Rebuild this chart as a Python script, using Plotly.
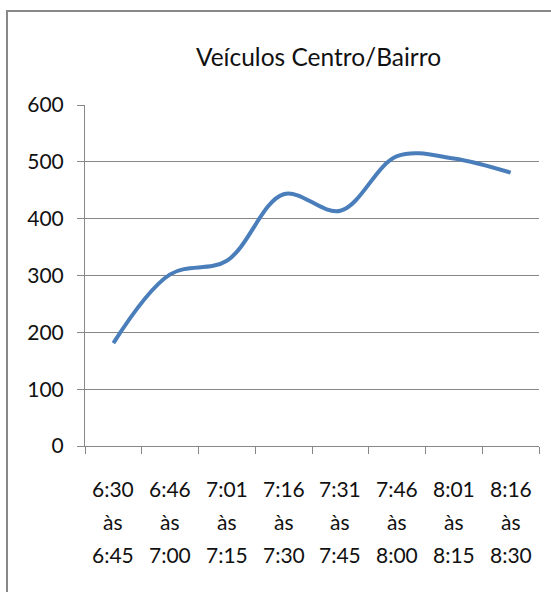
import plotly.graph_objects as go

# Vehicle counts per 15-minute interval, direction Centro -> Bairro
inicio = ["6:30", "6:46", "7:01", "7:16", "7:31", "7:46", "8:01", "8:16"]
fim = ["6:45", "7:00", "7:15", "7:30", "7:45", "8:00", "8:15", "8:30"]
veiculos = [181, 302, 326, 443, 414, 510, 506, 481]
y_ticks = [0, 100, 200, 300, 400, 500, 600]

categorias = [f"{a} às {b}" for a, b in zip(inicio, fim)]

FONT = "Lato, sans-serif"
TXT = "#111111"
GRID = "#878787"

fig = go.Figure(
    go.Scatter(
        x=categorias,
        y=veiculos,
        mode="lines",
        line=dict(color="#4A7EBB", width=4, shape="spline", smoothing=1.0),
        hoverinfo="x+y",
    )
)

W, H = 551, 592
L, R, T, B = 85, 12, 105, 146

fig.update_layout(
    width=W,
    height=H,
    margin=dict(l=L, r=R, t=T, b=B, pad=0, autoexpand=False),
    paper_bgcolor="white",
    plot_bgcolor="white",
    showlegend=False,
    font=dict(family=FONT, size=21, color=TXT),
    title=dict(
        text="Veículos Centro/Bairro",
        font=dict(family=FONT, size=24.5, color=TXT),
        x=318.5 / W,
        xanchor="center",
        xref="container",
        y=1 - 57 / H,
        yanchor="middle",
        yref="container",
    ),
    xaxis=dict(
        type="category",
        range=[-0.5, len(categorias) - 0.5],
        automargin=False,
        showgrid=False,
        showline=True,
        linecolor=GRID,
        linewidth=1,
        ticks="outside",
        tickson="boundaries",
        ticklen=7,
        tickcolor=GRID,
        tickwidth=1,
        showticklabels=False,
        fixedrange=True,
    ),
    yaxis=dict(
        range=[0, 600],
        automargin=False,
        tickvals=y_ticks,
        showgrid=True,
        gridcolor=GRID,
        gridwidth=1,
        zeroline=False,
        showline=True,
        linecolor=GRID,
        linewidth=1,
        ticks="outside",
        ticklen=7,
        tickcolor=GRID,
        tickwidth=1,
        tickfont=dict(family=FONT, size=21, color=TXT),
        ticklabelstandoff=9,
        fixedrange=True,
    ),
)

# Three-row category labels under each interval: start time, "às", end time
for cat, a, b in zip(categorias, inicio, fim):
    for k, txt in enumerate([a, "às", b]):
        fig.add_annotation(
            x=cat,
            xref="x",
            y=0,
            yref="paper",
            text=txt,
            showarrow=False,
            xanchor="center",
            yanchor="middle",
            yshift=-(42 + 33.2 * k),
            font=dict(family=FONT, size=21, color=TXT),
        )

# Chart-area frame, running off the right and bottom edges of the page
pw = W - L - R
ph = H - T - B
fig.add_shape(
    type="rect",
    xref="paper",
    yref="paper",
    x0=(7 - L) / pw,
    x1=(W + 10 - L) / pw,
    y0=-(H + 10 - (H - B)) / ph,
    y1=(H - B - 11) / ph,
    line=dict(color="#888888", width=2),
    fillcolor="rgba(0,0,0,0)",
    layer="below",
)

fig.write_html("out.html", config={"displayModeBar": False})
